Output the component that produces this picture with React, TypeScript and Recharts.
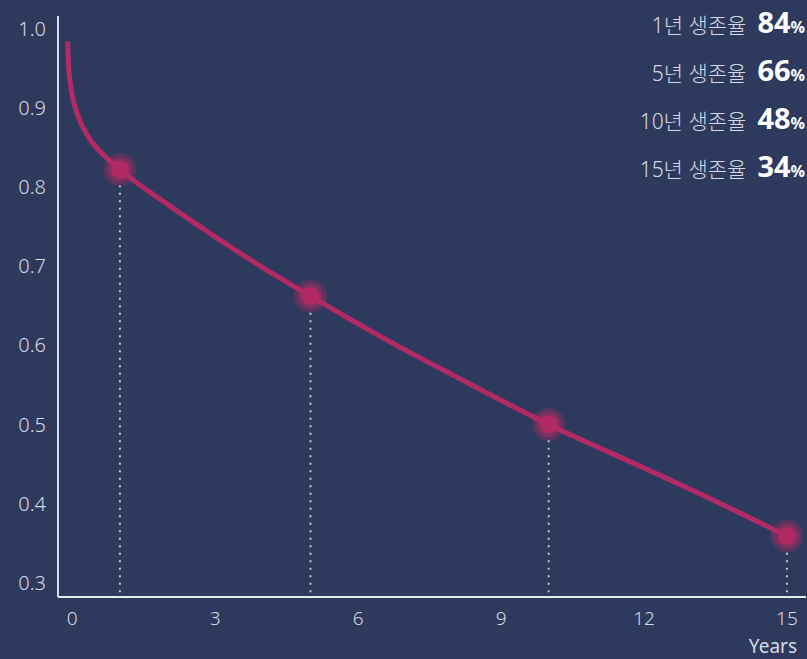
import React from "react";
import {
  ComposedChart,
  Line,
  Scatter,
  XAxis,
  YAxis,
  ReferenceLine,
} from "recharts";

// survival curve
const curveYears = [-0.1, -0.08, -0.04, 0, 0.1, 0.35, 0.7, 1, 2, 3, 4, 5, 6.5, 8, 10, 12, 13.5, 15];
const curveRates = [0.984, 0.955, 0.93, 0.915, 0.893, 0.862, 0.838, 0.822, 0.778, 0.737, 0.698, 0.662, 0.61, 0.562, 0.5, 0.445, 0.403, 0.359];

const markYears = [1, 5, 10, 15];
const markRates = [0.822, 0.662, 0.5, 0.359];

const legendYears = ["1년", "5년", "10년", "15년"];
const legendPercents = ["84", "66", "48", "34"];

const xTicks = [0, 3, 6, 9, 12, 15];
const yTicks = [0.3, 0.4, 0.5, 0.6, 0.7, 0.8, 0.9, 1.0];

const curveData = curveYears.map((x, i) => ({ x, y: curveRates[i] }));
const markData = markYears.map((x, i) => ({ x, y: markRates[i] }));

const BG = "#2e3a5d";
const CURVE = "#b22a64";
const TEXT = "#d6d9e3";
const FONT = "'Noto Sans', 'Noto Sans CJK KR', sans-serif";
const Y_MIN = 0.282;

const GlowDot = (props: any) => {
  const { cx, cy } = props;
  if (cx == null || cy == null) return null;
  return (
    <g>
      <circle cx={cx} cy={cy} r={16.5} fill={CURVE} fillOpacity={0.3} />
      <circle cx={cx} cy={cy} r={12.5} fill={CURVE} fillOpacity={0.45} />
      <circle cx={cx} cy={cy} r={9} fill={CURVE} />
    </g>
  );
};

export default function App() {
  return (
    <div
      style={{
        position: "absolute",
        left: 0,
        top: 0,
        width: 807,
        height: 659,
        background: BG,
        fontFamily: FONT,
        overflow: "hidden",
      }}
    >
      <ComposedChart width={807} height={659} margin={{ top: 16, right: 1, bottom: 0, left: 0 }}>
        <XAxis
          type="number"
          dataKey="x"
          domain={[-0.3, 15.4]}
          ticks={xTicks}
          allowDataOverflow
          height={62}
          stroke="#e8eaf0"
          strokeWidth={2}
          tickLine={false}
          tickMargin={9}
          tick={{ fill: TEXT, fontSize: 19, fontFamily: FONT, fontWeight: 300 }}
          label={{
            value: "Years",
            position: "insideBottomRight",
            offset: 6,
            fill: TEXT,
            fontSize: 19,
            fontFamily: FONT,
            dx: -3,
          }}
        />
        <YAxis
          type="number"
          dataKey="y"
          domain={[Y_MIN, 1.016]}
          ticks={yTicks}
          allowDataOverflow
          width={58}
          stroke="#d8dbe5"
          strokeWidth={2}
          tickLine={false}
          tickMargin={6}
          tickFormatter={(v: number) => v.toFixed(1)}
          tick={{ fill: TEXT, fontSize: 20, fontFamily: FONT, fontWeight: 300 }}
        />
        {markData.map((d) => (
          <ReferenceLine
            key={d.x}
            segment={[
              { x: d.x, y: Y_MIN + 0.006 },
              { x: d.x, y: d.y - 0.02 },
            ]}
            stroke="#c3c7d6"
            strokeWidth={2}
            strokeDasharray="2 5.5"
            ifOverflow="visible"
          />
        ))}
        <Line
          data={curveData}
          dataKey="y"
          type="monotone"
          stroke={CURVE}
          strokeWidth={5}
          dot={false}
          activeDot={false}
          isAnimationActive={false}
        />
        <Scatter data={markData} dataKey="y" shape={GlowDot} isAnimationActive={false} />
      </ComposedChart>
      <div
        style={{
          position: "absolute",
          right: 2,
          top: 4,
          textAlign: "right",
        }}
      >
        {legendYears.map((label, i) => (
          <div key={label} style={{ height: 48, lineHeight: "36px", whiteSpace: "nowrap" }}>
            <span style={{ color: TEXT, fontSize: 21, fontWeight: 300, marginRight: 11 }}>
              {label} 생존율
            </span>
            <span style={{ color: "#ffffff", fontSize: 29, fontWeight: 700 }}>
              {legendPercents[i]}
            </span>
            <span style={{ color: "#ffffff", fontSize: 16, fontWeight: 700 }}>%</span>
          </div>
        ))}
      </div>
    </div>
  );
}
